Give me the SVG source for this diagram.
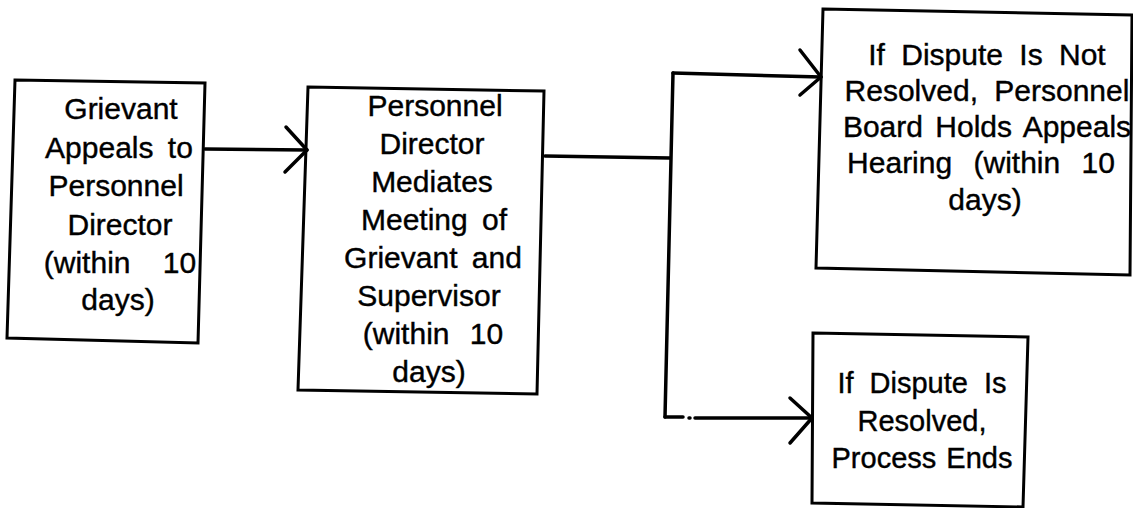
<svg xmlns="http://www.w3.org/2000/svg" width="1133" height="508" viewBox="0 0 1133 508">
<style>
.box{fill:#fff;stroke:#000;stroke-width:3;stroke-linejoin:miter}
.lbl{font-family:"Liberation Sans",Arial,Helvetica,sans-serif;font-size:30px;fill:#000;stroke:#000;stroke-width:0.4;text-anchor:middle;word-spacing:6px}
.con{fill:none;stroke:#000;stroke-width:3.5;stroke-linecap:round;stroke-linejoin:round}
</style>
<rect width="1133" height="508" fill="#fff"/>
<g id="node-grievant-appeals">
<polygon class="box" points="15,80 205,83 198,343 7,338"/>
<text class="lbl" x="121" y="119">Grievant</text>
<text class="lbl" x="119" y="158">Appeals to</text>
<text class="lbl" x="116" y="196">Personnel</text>
<text class="lbl" x="120" y="235">Director</text>
<text class="lbl" x="120" y="273" style="word-spacing:24px">(within 10</text>
<text class="lbl" x="118" y="310">days)</text>
</g>
<g id="node-director-mediates">
<polygon class="box" points="308,87 544,91 537,394 298,390"/>
<text class="lbl" x="435" y="116">Personnel</text>
<text class="lbl" x="432" y="154">Director</text>
<text class="lbl" x="432" y="192">Mediates</text>
<text class="lbl" x="434" y="230">Meeting of</text>
<text class="lbl" x="433" y="268">Grievant and</text>
<text class="lbl" x="429" y="306">Supervisor</text>
<text class="lbl" x="433" y="344" style="word-spacing:12px">(within 10</text>
<text class="lbl" x="429" y="382">days)</text>
</g>
<g id="node-not-resolved">
<polygon class="box" points="823,9 1132,15 1130,275 816,268"/>
<text class="lbl" x="987" y="65" style="word-spacing:8px">If Dispute Is Not</text>
<text class="lbl" x="987" y="101" style="word-spacing:8px">Resolved, Personnel</text>
<text class="lbl" x="987" y="137" style="word-spacing:4px">Board Holds Appeals</text>
<text class="lbl" x="981" y="173" style="word-spacing:13px">Hearing (within 10</text>
<text class="lbl" x="985" y="210">days)</text>
</g>
<g id="node-resolved">
<polygon class="box" points="813,333 1028,337 1023,507 812,503"/>
<text class="lbl" x="922" y="393" style="font-size:29px;word-spacing:8px">If Dispute Is</text>
<text class="lbl" x="922" y="431" style="font-size:29px">Resolved,</text>
<text class="lbl" x="922" y="468" style="font-size:29px;word-spacing:2px">Process Ends</text>
</g>
<g id="connectors">
<path class="con" d="M205,149 L307,150"/>
<path class="con" d="M286,127 L307,150 L285,172"/>
<path class="con" d="M545,156 L670,158"/>
<path class="con" d="M673,73 L665,417"/>
<path class="con" d="M673,73 L821,77"/>
<path class="con" d="M800,50 L821,77 L800,95"/>
<path class="con" d="M665,417 L683,417 M689,418 L690,418 M695,418 L812,418"/>
<path class="con" d="M790,398 L812,418 L790,443"/>
</g>
</svg>
